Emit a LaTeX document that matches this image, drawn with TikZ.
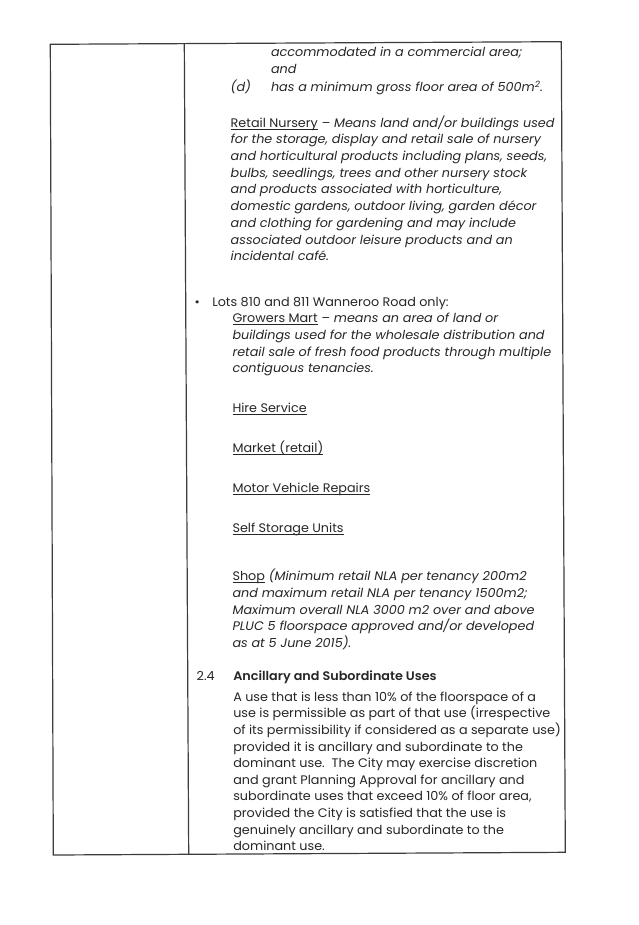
\documentclass[tikz,border=0pt]{standalone}
\usepackage{fontspec}
\IfFontExistsTF{Poppins SemiBold}
  {\setmainfont{Poppins}[FakeStretch=1.03, BoldFont={Poppins SemiBold}]}
  {\setmainfont{Poppins}[FakeStretch=1.03]}
\newcommand\dfont{\fontsize{12.4}{14}\selectfont}
\definecolor{ink}{HTML}{262626}
\definecolor{frame}{HTML}{3C3C3C}
\tikzset{
  txt/.style={anchor=base west, inner sep=0pt, outer sep=0pt, text=ink, font=\dfont},
  itx/.style={txt, font=\dfont\itshape},
  bfx/.style={txt, font=\dfont\bfseries},
  ul/.style={draw=ink, line width=0.7pt},
  rule/.style={draw=frame, line width=1.2pt},
}
\newcommand\ulnode[1]{\draw[ul] ([yshift=-1.8pt]#1.base west) -- ([yshift=-1.8pt]#1.base east);}
\begin{document}
\begin{tikzpicture}[x=1pt,y=-1pt]
\fill[white] (0,0) rectangle (638,925);
\useasboundingbox (0,0) rectangle (638,925);
% frame
\coordinate (tl) at (50.3,44.3);
\coordinate (tr) at (561.3,41.7);
\coordinate (br) at (565.3,852.3);
\coordinate (bl) at (53.3,855);
\coordinate (dt) at (184.3,43.6);
\coordinate (db) at (188.7,854.5);
\draw[rule] (tl) -- (tr) -- (br) -- (bl) -- cycle;
\draw[rule] (dt) -- (db);
% top item continuation
\node[itx] (a1) at (271,56.7) {accommodated in a commercial area;};
\node[itx] (a2) at (271,73.3) {and};
\node[itx] (d0) at (230.7,92) {(d)};
\node[itx] (d1) at (271,92) {has a minimum gross floor area of 500m\textsuperscript{2}.};
% Retail Nursery
\node[txt] (rn) at (230.7,127.3) {Retail Nursery};
\ulnode{rn}
\node[itx] (rn0) at (rn.base east) {\ --\ Means land and/or buildings used};
\node[itx] (rn1) at (230.7,144) {for the storage, display and retail sale of nursery};
\node[itx] (rn2) at (230.7,160.7) {and horticultural products including plans, seeds,};
\node[itx] (rn3) at (230.7,177.3) {bulbs, seedlings, trees and other nursery stock};
\node[itx] (rn4) at (230.7,194) {and products associated with horticulture,};
\node[itx] (rn5) at (230.7,210.7) {domestic gardens, outdoor living, garden d\'ecor};
\node[itx] (rn6) at (230.7,227.3) {and clothing for gardening and may include};
\node[itx] (rn7) at (230.7,244) {associated outdoor leisure products and an};
\node[itx] (rn8) at (230.7,260.7) {incidental caf\'e.};
% Lots 810 and 811
\node[txt, anchor=base] (bul) at (197.3,306) {\textbullet};
\node[txt] (lots) at (212.3,306) {Lots 810 and 811 Wanneroo Road only:};
\node[txt] (gm) at (232.5,322.7) {Growers Mart};
\ulnode{gm}
\node[itx] (gm0) at (gm.base east) {\ --\ means an area of land or};
\node[itx] (gm1) at (232.5,339.3) {buildings used for the wholesale distribution and};
\node[itx] (gm2) at (232.5,356) {retail sale of fresh food products through multiple};
\node[itx] (gm3) at (232.5,372.7) {contiguous tenancies.};
\node[txt] (hs) at (232.5,412.3) {Hire Service};
\ulnode{hs}
\node[txt] (mr) at (232.5,452.3) {Market (retail)};
\ulnode{mr}
\node[txt] (mv) at (232.5,492.3) {Motor Vehicle Repairs};
\ulnode{mv}
\node[txt] (ss) at (232.5,532.3) {Self Storage Units};
\ulnode{ss}
% Shop
\node[txt] (sh) at (232.5,580.7) {Shop};
\ulnode{sh}
\node[itx] (sh0) at (sh.base east) {\ (Minimum retail NLA per tenancy 200m2};
\node[itx] (sh1) at (232.5,597.3) {and maximum retail NLA per tenancy 1500m2;};
\node[itx] (sh2) at (232.5,614) {Maximum overall NLA 3000 m2 over and above};
\node[itx] (sh3) at (232.5,630.7) {PLUC 5 floorspace approved and/or developed};
\node[itx] (sh4) at (232.5,647.3) {as at 5 June 2015).};
% 2.4
\node[txt] (n24) at (196.7,680.7) {2.4};
\node[bfx] (h24) at (233.3,680.7) {Ancillary and Subordinate Uses};
\node[txt] (p1) at (233.3,701) {A use that is less than 10\% of the floorspace of a};
\node[txt] (p2) at (233.3,717.7) {use is permissible as part of that use (irrespective};
\node[txt] (p3) at (233.3,734.3) {of its permissibility if considered as a separate use)};
\node[txt] (p4) at (233.3,751) {provided it is ancillary and subordinate to the};
\node[txt] (p5) at (233.3,767.7) {dominant use.\ \ The City may exercise discretion};
\node[txt] (p6) at (233.3,784.3) {and grant Planning Approval for ancillary and};
\node[txt] (p7) at (233.3,800.7) {subordinate uses that exceed 10\% of floor area,};
\node[txt] (p8) at (233.3,817.3) {provided the City is satisfied that the use is};
\node[txt] (p9) at (233.3,834) {genuinely ancillary and subordinate to the};
\node[txt] (p10) at (233.3,850.7) {dominant use.};
\end{tikzpicture}
\end{document}
